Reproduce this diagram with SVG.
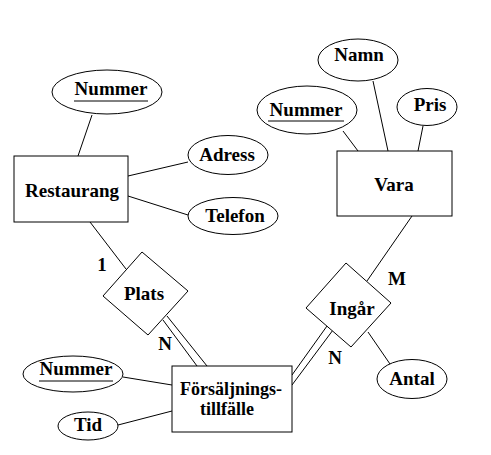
<svg xmlns="http://www.w3.org/2000/svg" width="491" height="455" viewBox="0 0 491 455">
<style>
.s{fill:#fff;stroke:#000;stroke-width:1}
.l{stroke:#000;stroke-width:1;fill:none}
text{font-family:"Liberation Serif","Times New Roman",serif;font-weight:bold;font-size:19px;fill:#000;text-anchor:middle}
.t2{font-size:18px}
</style>
<rect width="491" height="455" fill="#fff"/>
<g id="connectors" class="l">
<line x1="92" y1="115" x2="78" y2="156"/>
<line x1="128" y1="176" x2="188" y2="162"/>
<line x1="128" y1="196" x2="188" y2="215"/>
<line x1="90" y1="222" x2="126" y2="269"/>
<line x1="163" y1="320" x2="197" y2="366"/>
<line x1="167" y1="316" x2="207" y2="366"/>
<line x1="343" y1="131" x2="358" y2="151"/>
<line x1="373" y1="81" x2="388" y2="151"/>
<line x1="423" y1="126" x2="418" y2="151"/>
<line x1="412" y1="216" x2="367" y2="281"/>
<line x1="327" y1="326" x2="292" y2="375"/>
<line x1="333" y1="330" x2="292" y2="385"/>
<line x1="368" y1="332" x2="390" y2="364"/>
<line x1="123" y1="377" x2="172" y2="385"/>
<line x1="118" y1="425" x2="172" y2="411"/>
</g>
<g id="restaurang"><rect class="s" x="14" y="156" width="114" height="66"/><text x="72" y="197">Restaurang</text></g>
<g id="rest-nummer"><ellipse class="s" cx="107" cy="92" rx="55" ry="22"/><text x="111" y="95">Nummer</text><line class="l" x1="74" y1="101" x2="148" y2="101"/></g>
<g id="adress"><ellipse class="s" cx="228" cy="155" rx="40" ry="19.5"/><text x="227" y="161">Adress</text></g>
<g id="telefon"><ellipse class="s" cx="233" cy="216" rx="45" ry="18.5"/><text x="235" y="222">Telefon</text></g>
<g id="vara"><rect class="s" x="337" y="151" width="115" height="65"/><text x="394" y="191">Vara</text></g>
<g id="namn"><ellipse class="s" cx="358" cy="60" rx="40" ry="21"/><text x="359" y="61">Namn</text></g>
<g id="vara-nummer"><ellipse class="s" cx="307" cy="110" rx="50" ry="24"/><text x="306" y="116">Nummer</text><line class="l" x1="268" y1="121" x2="344" y2="121"/></g>
<g id="pris"><ellipse class="s" cx="427" cy="107" rx="30" ry="18.5"/><text x="430" y="111">Pris</text></g>
<g id="plats"><polygon class="s" points="142,252 188,291 148,335 103,296"/><text x="144" y="300">Plats</text></g>
<g id="ingar"><polygon class="s" points="346,263 391,303 351,347 306,308"/><text x="352" y="315">Ingår</text></g>
<g id="forsaljningstillfalle"><rect class="s" x="172" y="366" width="120" height="66"/><text class="t2" x="231" y="395">Försäljnings-</text><text class="t2" x="227" y="415">tillfälle</text></g>
<g id="fors-nummer"><ellipse class="s" cx="73" cy="374" rx="50" ry="18"/><text x="76" y="375">Nummer</text><line class="l" x1="39" y1="381" x2="113" y2="381"/></g>
<g id="tid"><ellipse class="s" cx="88" cy="426" rx="30" ry="14"/><text x="88" y="431">Tid</text></g>
<g id="antal"><ellipse class="s" cx="412" cy="379" rx="35" ry="19.5"/><text x="412" y="385">Antal</text></g>
<g id="labels">
<text x="102" y="271">1</text>
<text x="165" y="350">N</text>
<text x="397" y="285">M</text>
<text x="335" y="364">N</text>
</g>
</svg>
